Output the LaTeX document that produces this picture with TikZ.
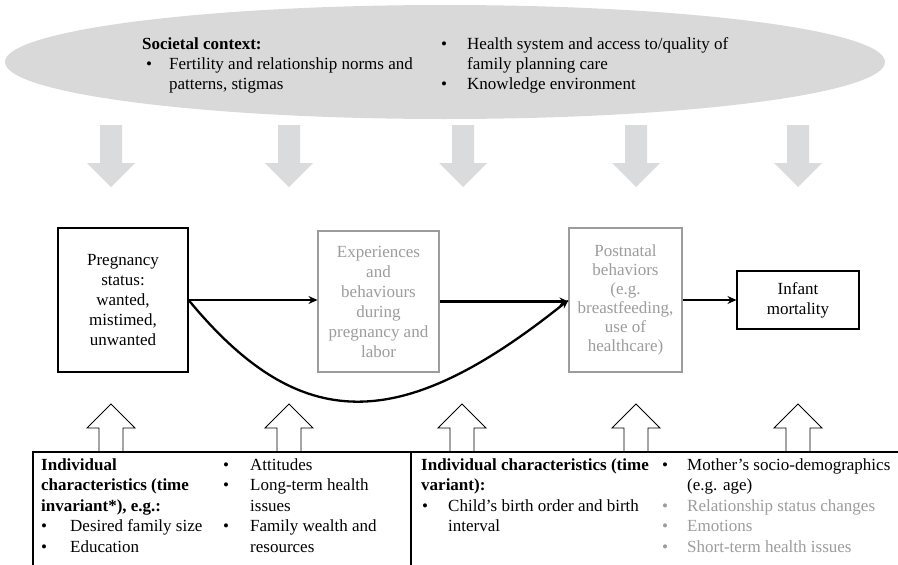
\documentclass[tikz,border=0pt]{standalone}
\usepackage{fontspec}
\setmainfont{Liberation Serif}
\usetikzlibrary{arrows.meta}
\definecolor{ctxgray}{HTML}{D9D9D9}
\definecolor{arrgray}{HTML}{DADBDC}
\definecolor{dimgray}{HTML}{9C9C9C}
\tikzset{
  txt/.style={anchor=base west, inner sep=0pt},
  bul/.style={anchor=base west, inner sep=0pt},
  boxblack/.style={draw=black, line width=1.1pt, align=center, inner sep=0pt},
  boxgray/.style={draw=dimgray, line width=1.1pt, align=center, inner sep=0pt, text=dimgray},
  conn/.style={line width=2.3pt, -{Stealth[length=9pt,width=8pt]}},
  downarrow/.style={fill=arrgray, draw=none},
  uparrow/.style={fill=white, draw=black, line width=0.9pt, line join=miter},
}
\newcommand{\bl}{•}
\begin{document}
\begin{tikzpicture}[x=1pt,y=-1pt, font=\fontsize{17}{20}\selectfont]
\useasboundingbox (0,0) rectangle (898,565);
% gray down arrows
\foreach \cx in {111,289,463,636,798}{
  \fill[downarrow] (\cx-11,125) -- (\cx+11,125) -- (\cx+11,163) -- (\cx+24,163)
     -- (\cx,187) -- (\cx-24,163) -- (\cx-11,163) -- cycle;
}
% context ellipse
\fill[ctxgray] (445,62) ellipse [x radius=440pt, y radius=57pt];
\node[txt] (s0) at (142,49) {\textbf{Societal context:}};
\node[bul] (s1b) at (146,69) {\bl};
\node[txt] (s1) at (169,69) {Fertility and relationship norms and};
\node[txt] (s2) at (169,89) {patterns, stigmas};
\node[bul] (s3b) at (441,49) {\bl};
\node[txt] (s3) at (467,49) {Health system and access to/quality of};
\node[txt] (s4) at (467,69) {family planning care};
\node[bul] (s5b) at (441,89) {\bl};
\node[txt] (s5) at (467,89) {Knowledge environment};
% main boxes
\node[boxblack, minimum width=130pt, minimum height=144pt] (b1) at (123,300)
  {Pregnancy\\status:\\wanted,\\mistimed,\\unwanted};
\node[boxgray, minimum width=121pt, minimum height=141pt] (b2) at (378.5,301.5)
  {Experiences\\and\\behaviours\\during\\pregnancy and\\labor};
\node[boxgray, minimum width=113pt, minimum height=144pt, font=\fontsize{17}{19}\selectfont] (b3) at (625.5,300)
  {Postnatal\\behaviors\\(e.g.\\breastfeeding,\\use of\\healthcare)};
\node[boxblack, minimum width=122pt, minimum height=58pt] (b4) at (798,300)
  {Infant\\mortality};
% connectors
\draw[conn] (b1.east) -- (b1.east -| b2.west);
\draw[conn] (b2.east) -- (b2.east -| b3.west);
\draw[conn] (b3.east) -- (b3.east -| b4.west);
\draw[conn] (b1.east) .. controls (300,435) and (400,435) .. (b3.west);
% up arrows
\foreach \cx in {111,289,462,636,798}{
  \draw[uparrow] (\cx-12,452) -- (\cx-12,428) -- (\cx-24,428) -- (\cx,404)
     -- (\cx+24,428) -- (\cx+12,428) -- (\cx+12,452);
}
% bottom box
\draw[line width=1.1pt] (33,570) -- (33,452) -- (900,452);
\draw[line width=1.1pt] (411,452) -- (411,570);
% bottom left section
\node[txt] (l1) at (41,470) {\textbf{Individual}};
\node[txt] (l2) at (41,490.5) {\textbf{characteristics (time}};
\node[txt] (l3) at (41,511) {\textbf{invariant*), e.g.:}};
\node[bul] (l4b) at (41,531.5) {\bl};
\node[txt] (l4) at (70,531.5) {Desired family size};
\node[bul] (l5b) at (41,552) {\bl};
\node[txt] (l5) at (70,552) {Education};
\node[bul] (m1b) at (223,470) {\bl};
\node[txt] (m1) at (250,470) {Attitudes};
\node[bul] (m2b) at (223,490.5) {\bl};
\node[txt] (m2) at (250,490.5) {Long-term health};
\node[txt] (m3) at (250,511) {issues};
\node[bul] (m4b) at (223,531.5) {\bl};
\node[txt] (m4) at (250,531.5) {Family wealth and};
\node[txt] (m5) at (250,552) {resources};
% bottom right section
\node[txt] (r1) at (421,470) {\textbf{Individual characteristics (time}};
\node[txt] (r2) at (421,490.5) {\textbf{variant):}};
\node[bul] (r3b) at (422,511) {\bl};
\node[txt] (r3) at (448,511) {Child’s birth order and birth};
\node[txt] (r4) at (448,531.5) {interval};
\node[bul] (q1b) at (662,470) {\bl};
\node[txt] (q1) at (687,470) {Mother’s socio-demographics};
\node[txt] (q2) at (687,490.5) {(e.g. age)};
\node[bul, text=dimgray] (q3b) at (662,511) {\bl};
\node[txt, text=dimgray] (q3) at (687,511) {Relationship status changes};
\node[bul, text=dimgray] (q4b) at (662,531.5) {\bl};
\node[txt, text=dimgray] (q4) at (687,531.5) {Emotions};
\node[bul, text=dimgray] (q5b) at (662,552) {\bl};
\node[txt, text=dimgray] (q5) at (687,552) {Short-term health issues};
\end{tikzpicture}
\end{document}
